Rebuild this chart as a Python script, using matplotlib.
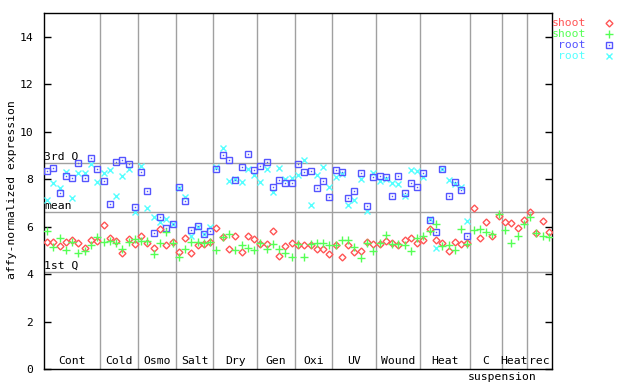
import matplotlib
matplotlib.use("Agg")
import matplotlib.pyplot as plt
import numpy as np

# groups along the x axis (number of samples in each)
groups = ["Cont", "Cold", "Osmo", "Salt", "Dry", "Gen", "Oxi", "UV",
          "Wound", "Heat", "C", "Heat", "rec"]
group_sizes = [9, 6, 6, 6, 7, 6, 6, 7, 7, 8, 5, 4, 4]

# reference lines
q3, mean, q1 = 8.67, 6.61, 4.08

shoot_a = [5.36, 5.35, 5.2, 5.35, 5.42, 5.3, 5.11, 5.45, 5.38,
           6.06, 5.51, 5.4, 4.88, 5.47, 5.26,
           5.6, 5.3, 5.09, 5.89, 5.22, 5.34,
           4.92, 5.51, 4.88, 5.22, 5.26, 5.34,
           5.93, 5.55, 5.05, 5.6, 4.92, 5.6, 5.47,
           5.26, 5.26, 5.81, 4.75, 5.17, 5.3,
           5.22, 5.22, 5.22, 5.05, 5.05, 4.84,
           5.22, 4.71, 5.22, 4.92, 4.96, 5.34, 5.26,
           5.26, 5.39, 5.3, 5.22, 5.43, 5.51, 5.3,
           5.43, 5.89, 5.43, 5.3, 4.96, 5.34, 5.26, 5.3,
           6.78, 5.51, 6.19, 5.6, 6.44,
           6.19, 6.14, 5.93, 6.27,
           6.61, 5.72, 6.23, 5.77]

shoot_b = [5.82, 5.13, 5.51, 5.01, 5.35, 4.88, 4.97, 5.22, 5.55,
           5.34, 5.39, 5.3, 5.05, 5.34, 5.47,
           5.39, 5.39, 4.84, 5.3, 5.77, 5.3,
           4.71, 5.05, 5.34, 5.34, 5.3, 5.34,
           5.01, 5.55, 5.68, 5.01, 5.22, 5.09, 5.01,
           5.3, 5.05, 5.26, 5.05, 4.88, 4.71,
           5.26, 4.71, 5.26, 5.3, 5.3, 5.22,
           5.22, 5.43, 5.43, 5.13, 4.67, 5.3, 4.96,
           5.3, 5.64, 5.26, 5.26, 5.22, 4.96, 5.51,
           5.6, 5.81, 6.1, 5.17, 5.22, 5.01, 5.89, 5.26,
           5.85, 5.89, 5.77, 5.68, 6.52,
           5.85, 5.3, 5.6, 6.1,
           6.4, 5.72, 5.6, 5.55]

nan = np.nan
root_a = [8.35, 8.46, 7.42, 8.13, 8.04, 8.68, 8.04, 8.89, 8.42,
          7.92, 6.95, 8.72, 8.8, 8.63, 6.82,
          8.3, 7.49, 5.72, 6.4, 5.93, 6.1,
          7.66, 7.07, 5.85, 6.02, 5.68, 5.81,
          8.42, 9.01, 8.8, 7.96, 8.51, 9.05, 8.38,
          8.55, 8.72, 7.66, 7.96, 7.83, 7.83,
          8.63, 8.3, 8.34, 7.62, 7.92, 7.24,
          8.38, 8.3, 7.2, 7.49, 8.25, 6.86, 8.09,
          8.13, 8.09, 7.28, 8.13, 7.41, 7.83, 7.66,
          8.25, 6.27, 5.77, 8.42, 7.28, 7.87, 7.54, 5.6,
          nan, nan, nan, nan, nan,
          nan, nan, nan, nan,
          nan, nan, nan, nan]

root_b = [7.11, 7.83, 7.62, 8.3, 7.2, 8.25, 8.25, 8.63, 7.87,
          8.25, 8.38, 7.28, 8.13, 8.42, 6.61,
          8.55, 6.78, 6.4, 6.19, 6.31, 6.1,
          7.62, 7.24, 5.6, 5.98, 5.68, 5.98,
          8.51, 9.31, 7.92, 8.0, 7.87, 8.42, 8.17,
          7.87, 8.42, 7.45, 8.46, 8.0, 8.04,
          8.17, 8.8, 6.9, 8.17, 8.51, 7.66,
          8.09, 8.21, 6.9, 7.11, 8.0, 6.65, 8.25,
          7.92, 8.0, 7.83, 7.79, 7.28, 8.38, 8.34,
          8.09, 6.31, 5.09, 8.42, 7.96, 7.79, 7.66, 6.23,
          nan, nan, nan, nan, nan,
          nan, nan, nan, nan,
          nan, nan, nan, nan]

RED, GREEN, BLUE, CYAN = "#ff5555", "#55ff55", "#5555ff", "#55ffff"
GRID = "#a0a0a0"
FONT = "DejaVu Sans Mono"
FS = 8.2

plt.rcParams["font.family"] = FONT
fig = plt.figure(figsize=(6.4, 3.84), dpi=100)
ax = fig.add_axes([44 / 640, 1 - 369 / 384, 508 / 640, (369 - 13.3) / 384])

n = sum(group_sizes)
x = np.arange(n) + 0.5
edges = np.cumsum([0] + group_sizes)

for e in edges[1:-1]:
    ax.axvline(e, color=GRID, lw=1.0, zorder=1)
for v in (q3, mean, q1):
    ax.axhline(v, color=GRID, lw=1.0, zorder=1)
for v, lab in ((q3, "3rd Q"), (mean, "mean"), (q1, "1st Q")):
    ax.text(0.05, v + 0.05, lab, fontsize=FS, va="bottom", ha="left", zorder=2)

ax.plot(x, root_b, ls="none", marker="x", ms=4.5, mew=1, color=CYAN, zorder=3)
ax.plot(x, root_a, ls="none", marker="s", ms=4.5, mew=1, mfc="none", mec=BLUE, zorder=3)
ax.plot(x, root_a, ls="none", marker="s", ms=1, mew=0, color=BLUE, zorder=3)
ax.plot(x, shoot_a, ls="none", marker="D", ms=3.5, mew=1, mfc="none", mec=RED, zorder=4)
ax.plot(x, shoot_b, ls="none", marker="+", ms=6, mew=1, color=GREEN, zorder=4)

for i, g in enumerate(groups):
    cx = (edges[i] + edges[i + 1]) / 2
    ax.text(cx, 0.12, g, fontsize=FS, ha="center", va="bottom")
ax.text(edges[11], -0.34, "suspension", fontsize=FS, ha="center",
        va="center", clip_on=False)

ax.set_xlim(0, n)
ax.set_ylim(0, 15)
ax.set_xticks([])
ax.set_yticks(np.arange(0, 15, 2))
ax.tick_params(axis="y", direction="in", length=5, width=1, right=True,
               labelsize=FS, pad=8)
for s in ax.spines.values():
    s.set_linewidth(1.0)

fig.text(12 / 640, 1 - 190 / 384, "affy-normalized expression", rotation=90,
         ha="center", va="center", fontsize=FS)

# legend at the right
lax = fig.add_axes([0, 0, 1, 1])
lax.set_xlim(0, 640)
lax.set_ylim(384, 0)
lax.axis("off")
entries = [("shoot", RED, "D", dict(ms=3.5, mfc="none", mec=RED)),
           ("shoot", GREEN, "+", dict(ms=6, color=GREEN)),
           ("root", BLUE, "s", dict(ms=4.5, mfc="none", mec=BLUE)),
           ("root", CYAN, "x", dict(ms=4.5, color=CYAN))]
for k, (lab, col, mk, kw) in enumerate(entries):
    y = 23 + 11 * k
    lax.text(586, y, lab, color=col, fontsize=FS, ha="right", va="center")
    lax.plot([609], [y], marker=mk, mew=1, ls="none", **kw)
    if mk == "s":
        lax.plot([609], [y], marker="s", ms=1, mew=0, color=col, ls="none")

fig.savefig("out.png", dpi=100)
